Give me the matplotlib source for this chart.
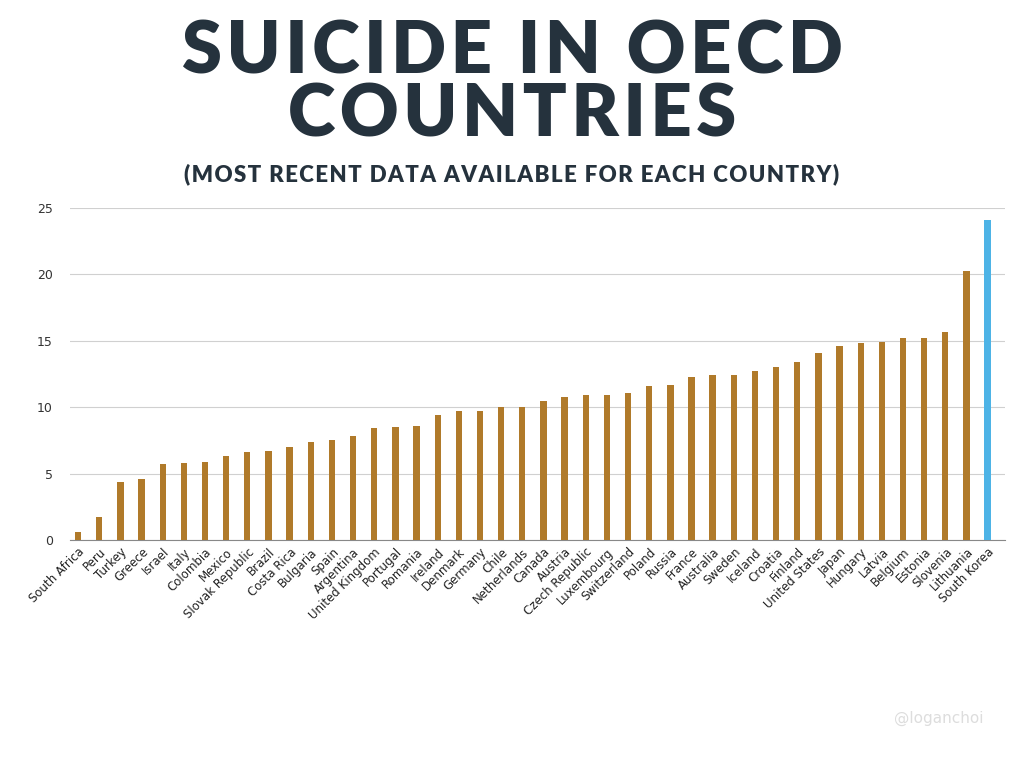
import matplotlib.pyplot as plt

countries = ["South Africa", "Peru", "Turkey", "Greece", "Israel", "Italy", "Colombia", "Mexico",
             "Slovak Republic", "Brazil", "Costa Rica", "Bulgaria", "Spain", "Argentina",
             "United Kingdom", "Portugal", "Romania", "Ireland", "Denmark", "Germany", "Chile",
             "Netherlands", "Canada", "Austria", "Czech Republic", "Luxembourg", "Switzerland",
             "Poland", "Russia", "France", "Australia", "Sweden", "Iceland", "Croatia", "Finland",
             "United States", "Japan", "Hungary", "Latvia", "Belgium", "Estonia", "Slovenia",
             "Lithuania", "South Korea"]
rates = [0.6, 1.7, 4.4, 4.6, 5.7, 5.8, 5.9, 6.3, 6.6, 6.7, 7.0, 7.4, 7.5, 7.8, 8.4, 8.5, 8.6,
         9.4, 9.7, 9.7, 10.0, 10.0, 10.5, 10.8, 10.9, 10.9, 11.1, 11.6, 11.7, 12.3, 12.4, 12.4,
         12.7, 13.0, 13.4, 14.1, 14.6, 14.8, 14.9, 15.2, 15.2, 15.7, 20.3, 24.1]

colors = ["#4db3e6" if c == "South Korea" else "#b07a2a" for c in countries]


def spaced(s, sep="\u200a"):
    # emulate the wide letter spacing of the poster title
    return sep.join(s)


fig = plt.figure(figsize=(10.24, 7.68), dpi=100)
ax = fig.add_axes([0.068, 0.297, 0.913, 0.432])

ax.bar(range(len(countries)), rates, width=0.3, color=colors, zorder=3)
ax.set_xlim(-0.4, len(countries) - 0.2)
ax.set_ylim(0, 25)
ax.set_yticks([0, 5, 10, 15, 20, 25])
ax.yaxis.grid(True, color="#d0d0d0", linewidth=0.8, zorder=0)
ax.set_xticks(range(len(countries)))
ax.set_xticklabels(countries, rotation=45, ha="right", rotation_mode="anchor",
                   fontsize=8.5, color="#222222")
ax.tick_params(axis="y", length=0, labelsize=9, colors="#333333", pad=12)
ax.tick_params(axis="x", length=0, pad=4)
for s in ["top", "right", "left"]:
    ax.spines[s].set_visible(False)
ax.spines["bottom"].set_color("#888888")

title_font = ["Lato", "DejaVu Sans"]
fig.text(0.5, 0.932, spaced("SUICIDE IN OECD"), ha="center", va="center",
         fontsize=52, fontweight="heavy", color="#25323d", family=title_font)
fig.text(0.5, 0.85, spaced("COUNTRIES"), ha="center", va="center",
         fontsize=52, fontweight="heavy", color="#25323d", family=title_font)
fig.text(0.5, 0.773, spaced("(MOST RECENT DATA AVAILABLE FOR EACH COUNTRY)"), ha="center",
         va="center", fontsize=16, fontweight="heavy", color="#25323d", family=title_font)
fig.text(0.96, 0.065, "@loganchoi", ha="right", va="center", fontsize=11, color="#dddddd")

fig.savefig("out.png", dpi=100)
